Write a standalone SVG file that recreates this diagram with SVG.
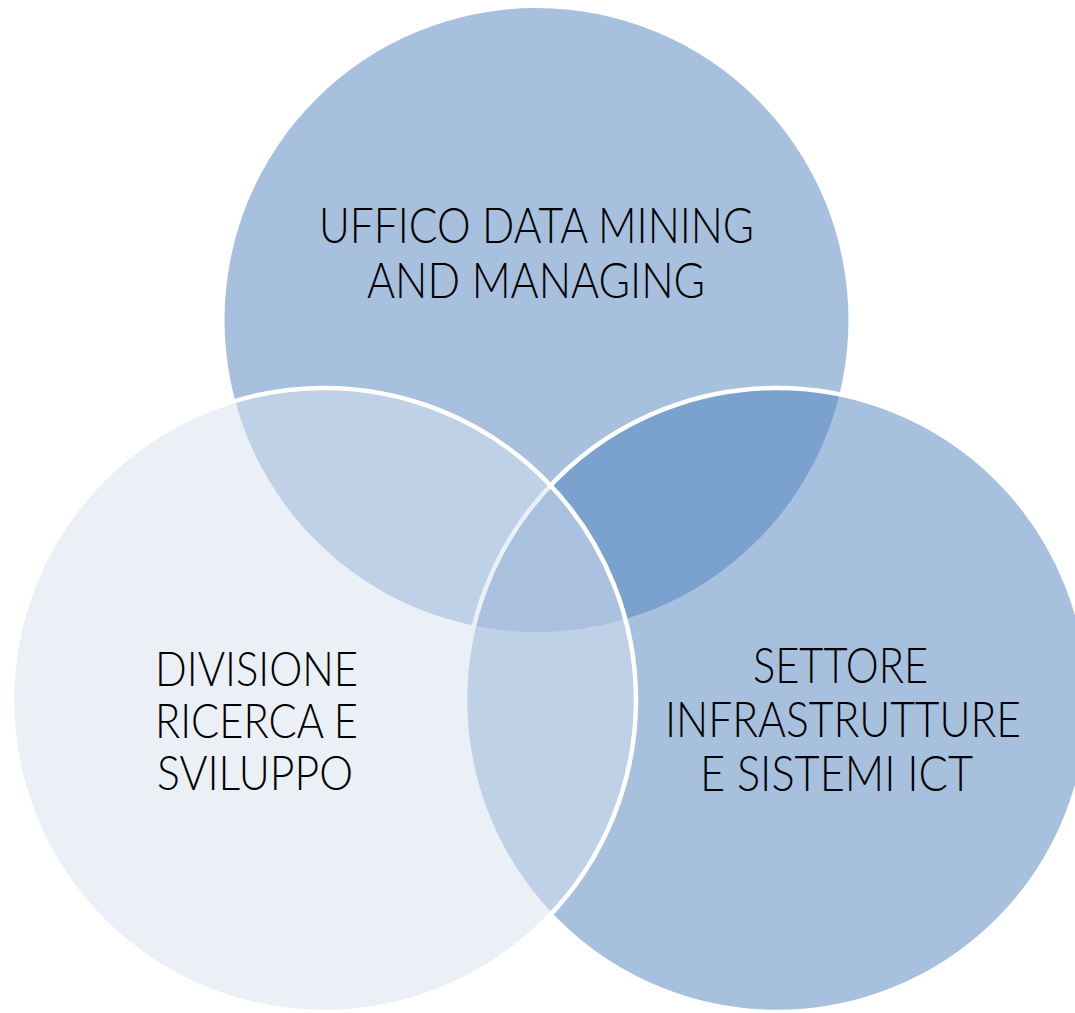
<svg xmlns="http://www.w3.org/2000/svg" width="1075" height="1013" viewBox="0 0 1075 1013">
  <style>
    .lbl { font-family: Lato, "Liberation Sans", sans-serif; font-weight: 300; font-size: 49px; fill: #000000; }
    .sm { font-size: 47px; }
    .blue { fill: #4F81BD; fill-opacity: 0.5; }
    .light { fill: #D7E1EF; fill-opacity: 0.5; }
    .edge { stroke: #FFFFFF; stroke-width: 4.5; }
  </style>
  <rect width="1075" height="1013" fill="#FFFFFF"/>
  <g id="node-uffico">
    <circle class="blue" cx="536.5" cy="320" r="312"/>
    <text class="lbl" x="319" y="243" textLength="435" lengthAdjust="spacingAndGlyphs">UFFICO DATA MINING</text>
    <text class="lbl" x="367" y="298" textLength="338" lengthAdjust="spacingAndGlyphs">AND MANAGING</text>
  </g>
  <g id="node-settore">
    <circle class="blue edge" cx="777" cy="700" r="312"/>
    <text class="lbl" x="753" y="683" textLength="175" lengthAdjust="spacingAndGlyphs">SETTORE</text>
    <text class="lbl" x="665" y="737" textLength="356" lengthAdjust="spacingAndGlyphs">INFRASTRUTTURE</text>
    <text class="lbl" x="700" y="791" textLength="273" lengthAdjust="spacingAndGlyphs">E SISTEMI ICT</text>
  </g>
  <g id="node-divisione">
    <circle class="light edge" cx="324" cy="700" r="312"/>
    <text class="lbl sm" x="155" y="686" textLength="203" lengthAdjust="spacingAndGlyphs">DIVISIONE</text>
    <text class="lbl sm" x="155" y="738" textLength="203" lengthAdjust="spacingAndGlyphs">RICERCA E</text>
    <text class="lbl sm" x="157" y="790" textLength="196" lengthAdjust="spacingAndGlyphs">SVILUPPO</text>
  </g>
</svg>
